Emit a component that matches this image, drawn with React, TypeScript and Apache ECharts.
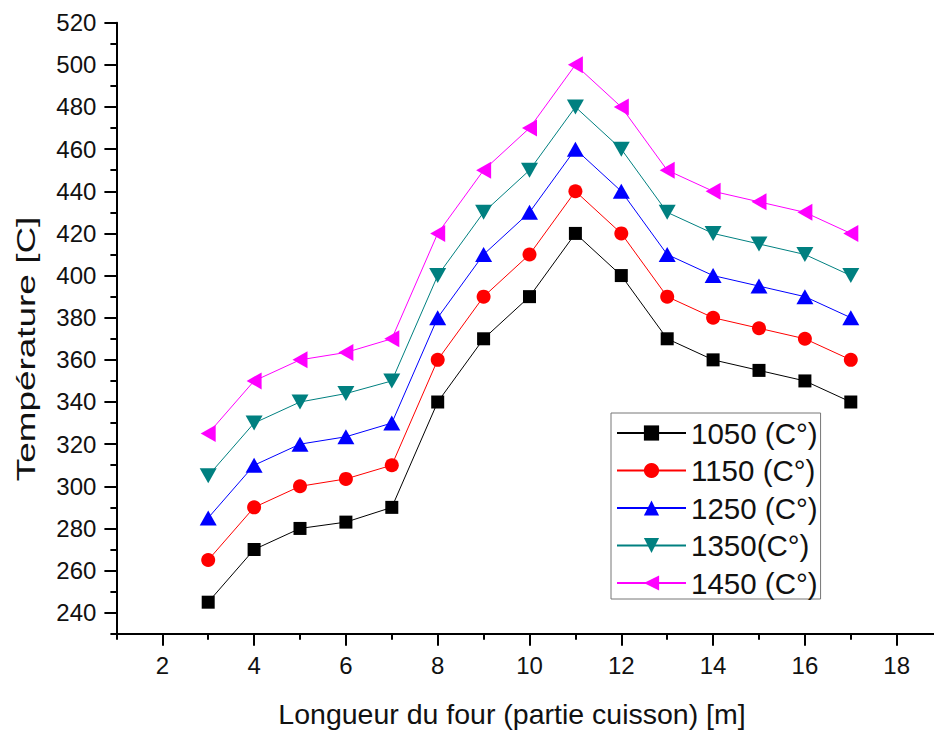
import React, { useEffect, useRef } from "react";
import * as echarts from "echarts";

// ---- data ----
const xPositions = [3, 4, 5, 6, 7, 8, 9, 10, 11, 12, 13, 14, 15, 16, 17];
const seriesNames = ["1050 (C°)", "1150 (C°)", "1250 (C°)", "1350(C°)", "1450 (C°)"];
const t1050 = [245, 270, 280, 283, 290, 340, 370, 390, 420, 400, 370, 360, 355, 350, 340];
const t1150 = [265, 290, 300, 303.5, 310, 360, 390, 410, 440, 420, 390, 380, 375, 370, 360];
const t1250 = [285, 310, 320, 323.5, 330, 380, 410, 430, 460, 440, 410, 400, 395, 390, 380];
const t1350 = [305, 330, 340, 344, 350, 400, 430, 450, 480, 460, 430, 420, 415, 410, 400];
const t1450 = [325, 350, 360, 363.5, 370, 420, 450, 470, 500, 480, 450, 440, 435, 430, 420];
const seriesValues = [t1050, t1150, t1250, t1350, t1450];
const xTitle = "Longueur du four (partie cuisson) [m]";
const yTitle = "Température [C]";

// ---- styles ----
const colors = ["#000000", "#ff0000", "#0000ff", "#008080", "#ff00ff"];
const symbols = ["rect", "circle", "triangle", "triangle", "triangle"];
const symbolSizes: any[] = [13, 14, [17, 15], [17, 15], [17, 15]];
const symbolRotates = [0, 0, 0, 180, 90];
const FONT = "'Liberation Sans', Arial, sans-serif";
const TXT = "#111111";

export default function App() {
  const ref = useRef<HTMLDivElement>(null);
  useEffect(() => {
    if (!ref.current) return;
    const chart = echarts.init(ref.current, null, { renderer: "svg" });
    const axisLineStyle = { color: "#000", width: 2 };
    const option: any = {
      animation: false,
      backgroundColor: "#ffffff",
      grid: [
        { left: 116.4, right: -8.6, top: 22.7, bottom: 97.2, outerBoundsMode: "none" },
        { left: 162.3, right: -54.5, top: 22.7, bottom: 118.3, outerBoundsMode: "none" },
      ],
      xAxis: [
        {
          gridIndex: 0,
          type: "value",
          min: 1,
          max: 19,
          interval: 1,
          axisLine: { show: true, onZero: false, lineStyle: axisLineStyle },
          axisTick: { show: true, inside: false, length: 6, lineStyle: axisLineStyle },
          axisLabel: { show: false },
          splitLine: { show: false },
          name: xTitle,
          nameLocation: "middle",
          nameGap: 66,
          nameTextStyle: { fontSize: 28.5, fontFamily: FONT, color: TXT, padding: [0, 35, 0, 0] },
        },
        {
          gridIndex: 1,
          type: "value",
          min: 2,
          max: 20,
          interval: 2,
          offset: 21.1,
          axisLine: { show: false, onZero: false },
          axisTick: { show: true, inside: false, length: 12, lineStyle: axisLineStyle },
          axisLabel: {
            show: true,
            showMaxLabel: false,
            fontSize: 24,
            fontFamily: FONT,
            color: TXT,
            margin: 20,
          },
          splitLine: { show: false },
        },
      ],
      yAxis: [
        {
          gridIndex: 0,
          type: "value",
          min: 230,
          max: 520,
          interval: 10,
          axisLine: { show: true, onZero: false, lineStyle: axisLineStyle },
          axisTick: { show: true, inside: false, length: 6, lineStyle: axisLineStyle },
          axisLabel: { show: false },
          splitLine: { show: false },
        },
        {
          gridIndex: 1,
          type: "value",
          min: 240,
          max: 520,
          interval: 20,
          offset: 45.9,
          axisLine: { show: false, onZero: false },
          axisTick: { show: true, inside: false, length: 12, lineStyle: axisLineStyle },
          axisLabel: { show: true, fontSize: 24, fontFamily: FONT, color: TXT, margin: 20 },
          splitLine: { show: false },
        },
      ],
      legend: {
        orient: "vertical",
        left: 611,
        top: 413,
        padding: [5, 3, 1, 5],
        borderColor: "#777777",
        borderWidth: 1,
        itemWidth: 69,
        itemHeight: 19,
        itemGap: 7.5,
        textStyle: { fontSize: 29.5, fontFamily: FONT, color: TXT },
        data: seriesNames,
      },
      graphic: [
        {
          type: "text",
          x: 26,
          y: 349,
          rotation: Math.PI / 2,
          scaleX: 1.42,
          style: {
            text: yTitle,
            fontSize: 26,
            fontFamily: FONT,
            fill: TXT,
            align: "center",
            verticalAlign: "middle",
            textAlign: "center",
            textVerticalAlign: "middle",
          },
        },
      ],
      series: seriesNames.map((name, i) => ({
        name,
        type: "line",
        xAxisIndex: 0,
        yAxisIndex: 0,
        data: xPositions.map((x, j) => [x, seriesValues[i][j]]),
        symbol: symbols[i],
        symbolSize: symbolSizes[i],
        symbolRotate: symbolRotates[i],
        itemStyle: { color: colors[i] },
        lineStyle: { color: colors[i], width: 1 },
        z: 2 + i,
      })),
    };
    chart.setOption(option);
    return () => chart.dispose();
  }, []);
  return (
    <div
      ref={ref}
      style={{ position: "absolute", left: 0, top: 0, width: 934, height: 731 }}
    />
  );
}
